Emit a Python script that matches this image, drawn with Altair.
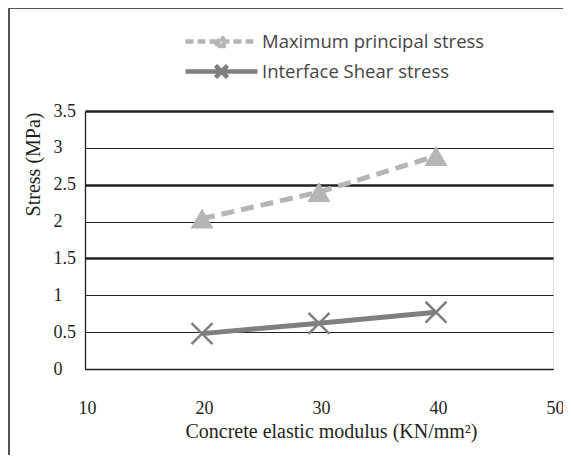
import altair as alt
import pandas as pd

x_modulus = [20, 30, 40]
max_principal = [2.04, 2.40, 2.89]
interface_shear = [0.48, 0.62, 0.77]
series_names = ["Maximum principal stress", "Interface Shear stress"]
y_ticks = [0, 0.5, 1, 1.5, 2, 2.5, 3, 3.5]
x_ticks = [10, 20, 30, 40, 50]

rows = []
for xv, v in zip(x_modulus, max_principal):
    rows.append({"x": xv, "y": v, "series": series_names[0]})
for xv, v in zip(x_modulus, interface_shear):
    rows.append({"x": xv, "y": v, "series": series_names[1]})
df = pd.DataFrame(rows)

colors = ["#b5b5b5", "#7f7f7f"]
tri = "M0,-0.95L1.1,0.95L-1.1,0.95Z"
xmark = "M-1,-1L1,1M-1,1L1,-1"
leg_tri = "M-3.6,0H3.6M-0.55,0.45L0,-0.55L0.55,0.45Z"
leg_x = "M-3.6,0H3.6M-0.6,-0.6L0.6,0.6M-0.6,0.6L0.6,-0.6"

x_enc = alt.X("x:Q", scale=alt.Scale(domain=[10, 50], nice=False),
              axis=alt.Axis(values=x_ticks, format="d", grid=False, ticks=False, domain=True,
                            domainColor="#231f20", domainWidth=1.3,
                            labelFont="Liberation Serif", labelFontSize=18,
                            labelColor="#231f20", labelPadding=30,
                            labelFlush=False, labelOffset=2,
                            title="Concrete elastic modulus (KN/mm²)",
                            titleFont="Liberation Serif", titleFontSize=20,
                            titleFontWeight="normal", titleColor="#231f20",
                            titleX=246, titleY=68, titleBaseline="alphabetic",
                            titleAnchor="start", titleAlign="center"))
y_enc = alt.Y("y:Q", scale=alt.Scale(domain=[0, 3.5], nice=False),
              axis=alt.Axis(values=y_ticks, format="~g", grid=True, ticks=False, domain=True,
                            domainColor="#231f20", domainWidth=1.3,
                            gridColor="#231f20",
                            gridWidth=alt.ConditionalAxisNumber(
                                condition={"test": "datum.value == 1.5 || datum.value == 2.5 || datum.value == 3.5", "value": 2.6},
                                value=1.2),
                            labelFont="Liberation Serif", labelFontSize=18,
                            labelColor="#231f20", labelAlign="left", labelPadding=32,
                            labelFlush=False,
                            title="Stress (MPa)",
                            titleFont="Liberation Serif", titleFontSize=20,
                            titleFontWeight="normal", titleColor="#231f20",
                            titleX=-52, titleY=1, titleAngle=270, titleAlign="right",
                            titleBaseline="middle"))

leg = dict(title=None, orient="none", legendX=124, legendY=-82, direction="vertical",
           labelFont="Open Sans", labelFontSize=18.5, labelColor="#454545",
           labelOffset=28, rowPadding=1, symbolSize=400, symbolStrokeWidth=4.5,
           symbolFillColor=colors[0], symbolOpacity=1, labelLimit=400)

base = alt.Chart(df).encode(x=x_enc, y=y_enc)

line_max = base.transform_filter(alt.datum.series == series_names[0]).mark_line(
    strokeWidth=5, strokeCap="butt", strokeDash=[13, 7], color=colors[0])

line_shear = base.transform_filter(alt.datum.series == series_names[1]).mark_line(
    strokeWidth=5, strokeCap="butt", color=colors[1])

tri_pts = base.transform_filter(alt.datum.series == series_names[0]).mark_point(
    shape=tri, filled=True, size=440, opacity=1, color=colors[0])

x_pts = base.transform_filter(alt.datum.series == series_names[1]).mark_point(
    shape=xmark, filled=False, size=440, strokeWidth=2.5, opacity=1, color=colors[1])

legend_src = base.mark_point(size=0, filled=False, strokeWidth=4.5).encode(
    color=alt.Color("series:N", scale=alt.Scale(domain=series_names, range=colors),
                    legend=alt.Legend(**leg)),
    shape=alt.Shape("series:N", scale=alt.Scale(domain=series_names, range=[leg_tri, leg_x]),
                    legend=alt.Legend(**leg)),
    strokeDash=alt.StrokeDash("series:N",
                              scale=alt.Scale(domain=series_names, range=[[8, 4], [1, 0]]),
                              legend=alt.Legend(**leg)),
)

frame_left = base.mark_rule(color="#555555", strokeWidth=1.5).encode(
    x=alt.value(-76), y=alt.value(-103), y2=alt.value(360))
frame_top = base.mark_rule(color="#555555", strokeWidth=1.5).encode(
    x=alt.value(-76), x2=alt.value(480), y=alt.value(-103))

chart = alt.layer(frame_left, frame_top, line_max, line_shear, tri_pts, x_pts,
                  legend_src).properties(
    width=468, height=258,
    padding={"left": 77, "top": 103, "right": 10, "bottom": 86},
    autosize=alt.AutoSizeParams(type="none"),
).configure_view(stroke="#231f20", strokeWidth=1.3).configure(background="white")

chart.save("out.html", embed_options={"renderer": "svg", "actions": False})
